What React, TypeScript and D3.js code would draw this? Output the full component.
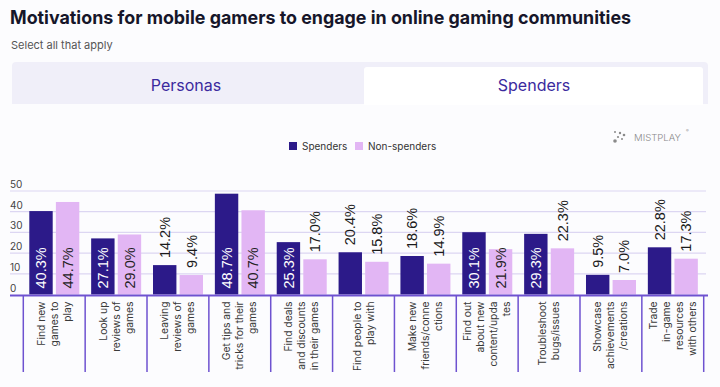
import React from "react";
import * as d3 from "d3";

const categories = [
  ["Find new", "games to", "play"],
  ["Look up", "reviews of", "games"],
  ["Leaving", "reviews of", "games"],
  ["Get tips and", "tricks for their", "games"],
  ["Find deals", "and discounts", "in their games"],
  ["Find people to", "play with"],
  ["Make new", "friends/conne", "ctions"],
  ["Find out", "about new", "content/upda", "tes"],
  ["Troubleshoot", "bugs/issues"],
  ["Showcase", "achievements", "/creations"],
  ["Trade", "in-game", "resources", "with others"],
];

const spenders = [40.3, 27.1, 14.2, 48.7, 25.3, 20.4, 18.6, 30.1, 29.3, 9.5, 22.8];
const nonSpenders = [44.7, 29.0, 9.4, 40.7, 17.0, 15.8, 14.9, 21.9, 22.3, 7.0, 17.3];

// which value labels sit inside the bar (as in the original)
const spendersInside = [true, true, false, true, true, false, false, true, true, false, false];
const nonSpendersInside = [true, true, false, true, false, false, false, true, false, false, false];

const yTicks = [0, 10, 20, 30, 40, 50];
const seriesNames = ["Spenders", "Non-spenders"];
const tabs = ["Personas", "Spenders"];

const W = 720;
const H = 387;
const DARK = "#2c1a89";
const PINK = "#e2b6f4";
const AXIS = "#6e52d0";
const UI_FONT = "Inter, 'Noto Sans', sans-serif";
const NUM_FONT = "'Liberation Sans', Arial, sans-serif";

const App = () => {
  const keys = categories.map((c) => c.join(" "));
  const x0 = d3.scaleBand<string>().domain(keys).range([23.3, 703.7]).paddingInner(0);
  const x1 = d3.scaleBand<string>().domain(seriesNames).range([6, 56]).paddingInner(0.12);
  const y = d3.scaleLinear().domain([0, 50]).range([294.5, 191]);

  const series = [
    { name: seriesNames[0], values: spenders, inside: spendersInside, color: DARK, text: "#ffffff" },
    { name: seriesNames[1], values: nonSpenders, inside: nonSpendersInside, color: PINK, text: "#222222" },
  ];

  return (
    <svg
      width={W}
      height={H}
      style={{ position: "absolute", left: 0, top: 0, display: "block" }}
    >
      <rect width={W} height={H} fill="#fcfcfe" />

      {/* title */}
      <text
        x={10}
        y={24}
        fontFamily={UI_FONT}
        fontWeight={700}
        fontSize={18.5}
        fill="#16162a"
        textLength={621}
        lengthAdjust="spacingAndGlyphs"
      >
        Motivations for mobile gamers to engage in online gaming communities
      </text>
      <text x={11} y={49} fontFamily={UI_FONT} fontSize={11} fill="#555">
        Select all that apply
      </text>

      {/* tabs */}
      <path d="M12,104 L12,66 Q12,62 16,62 L704,62 Q708,62 708,66 L708,104 Z" fill="#f0eff9" />
      <rect x={364} y={67} width={339} height={40} rx={3} fill="#ffffff" />
      <rect x={12} y={105} width={696} height={3} fill="#fcfcfe" />
      {tabs.map((t, i) => (
        <text
          key={t}
          x={i === 0 ? 186 : 534}
          y={91}
          textAnchor="middle"
          fontFamily={UI_FONT}
          fontSize={16}
          fill="#3b2a9e"
        >
          {t}
        </text>
      ))}

      {/* legend */}
      {series.map((s, i) => {
        const lx = i === 0 ? 289 : 355;
        return (
          <g key={s.name}>
            <rect x={lx} y={142} width={8} height={8} fill={s.color} />
            <text x={lx + 13} y={149.5} fontFamily={UI_FONT} fontSize={10} fill="#333">
              {s.name}
            </text>
          </g>
        );
      })}

      {/* logo */}
      <g fill="#8a8a8a">
        <circle cx={615} cy={132} r={1} />
        <circle cx={620} cy={133} r={1.2} />
        <circle cx={624} cy={135} r={1.3} />
        <circle cx={618} cy={137} r={1.1} />
        <circle cx={622} cy={139} r={1} />
        <circle cx={615} cy={141} r={1.8} />
        <text x={634} y={140.5} fontFamily={UI_FONT} fontSize={9.6} fontWeight={300}>
          MISTPLAY
        </text>
        <text x={686} y={132} fontFamily={UI_FONT} fontSize={4}>
          ®
        </text>
      </g>

      {/* grid + y ticks */}
      {yTicks.map((t) => (
        <g key={t}>
          {t > 0 && <line x1={10} x2={706} y1={y(t)} y2={y(t)} stroke="#dcd6f2" strokeWidth={1.2} />}
          <text x={10} y={y(t) - 3} fontFamily={UI_FONT} fontSize={10} fill="#444">
            {t}
          </text>
        </g>
      ))}

      {/* bars */}
      {keys.map((k, ci) => (
        <g key={k} transform={`translate(${x0(k)},0)`}>
          {series.map((s) => {
            const v = s.values[ci];
            const bx = x1(s.name) as number;
            const bw = x1.bandwidth();
            const cx = bx + bw / 2;
            const inside = s.inside[ci];
            const ly = inside ? y(0) - 6 : y(v) - 7;
            return (
              <g key={s.name}>
                <rect x={bx} y={y(v)} width={bw} height={y(0) - y(v)} fill={s.color} />
                <text
                  transform={`translate(${cx + 5.2},${ly}) rotate(-90)`}
                  fontFamily={NUM_FONT}
                  fontSize={14.5}
                  fill={inside ? s.text : "#1a1a1a"}
                >
                  {v.toFixed(1)}%
                </text>
              </g>
            );
          })}
        </g>
      ))}

      {/* axis line + separators */}
      <line x1={10} x2={708} y1={295.5} y2={295.5} stroke={AXIS} strokeWidth={2} />
      {[...keys.map((k) => x0(k) as number), 703.7].map((sx, i) => (
        <line key={i} x1={sx} x2={sx} y1={295} y2={372} stroke={AXIS} strokeWidth={1.5} />
      ))}

      {/* category labels */}
      {categories.map((lines, ci) => {
        const cx = (x0(keys[ci]) as number) + x0.bandwidth() / 2;
        const n = lines.length;
        return (
          <g key={ci}>
            {lines.map((ln, li) => {
              const lx = cx + (li - (n - 1) / 2) * 13 + 3.5;
              return (
                <text
                  key={li}
                  transform={`translate(${lx},301.5) rotate(-90)`}
                  textAnchor="end"
                  fontFamily={UI_FONT}
                  fontSize={10.3}
                  fill="#3a3a3a"
                >
                  {ln}
                </text>
              );
            })}
          </g>
        );
      })}
    </svg>
  );
};

export default App;
